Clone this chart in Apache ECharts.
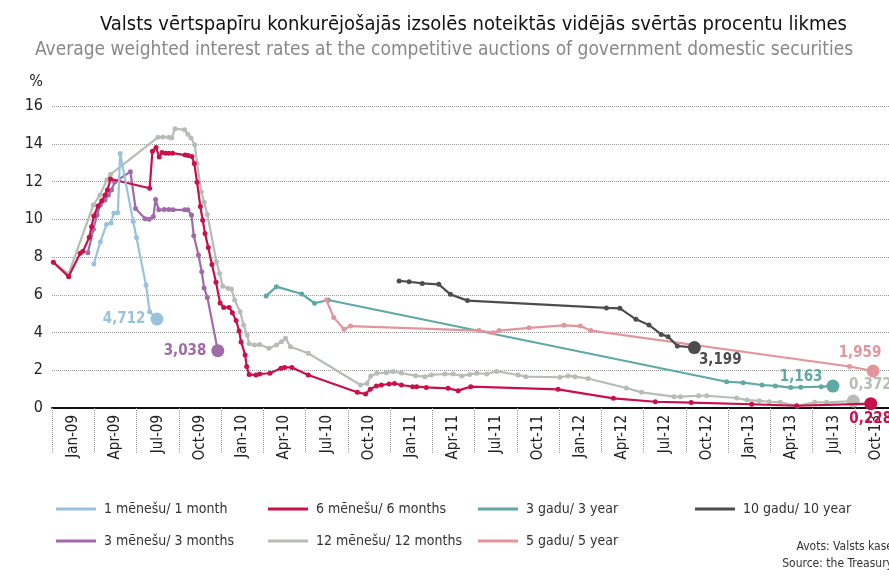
<!DOCTYPE html>
<html>
<head>
<meta charset="utf-8">
<script src="https://cdn.jsdelivr.net/npm/echarts@6/dist/echarts.min.js"></script>
<style>
html, body { margin: 0; padding: 0; background: #fff; }
#chart { width: 889px; height: 578px; }
</style>
</head>
<body>
<div id="chart"></div>
<script>
// ceturkšņu etiķetes uz x ass
const quarterLabels = [
  'Jan-09', 'Apr-09', 'Jul-09', 'Oct-09',
  'Jan-10', 'Apr-10', 'Jul-10', 'Oct-10',
  'Jan-11', 'Apr-11', 'Jul-11', 'Oct-11',
  'Jan-12', 'Apr-12', 'Jul-12', 'Oct-12',
  'Jan-13', 'Apr-13', 'Jul-13', 'Oct-13'
]

// 1 mēnesis
const dates1m = ['2009-03-31', '2009-04-14', '2009-04-27', '2009-05-07', '2009-05-13', '2009-05-22',
  '2009-05-27', '2009-06-24', '2009-07-01', '2009-07-22', '2009-07-30', '2009-08-15']
const rates1m = [7.63, 8.8, 9.72, 9.8, 10.33, 10.35, 13.49, 9.88, 9.02, 6.5, 5.1, 4.712]

// 3 mēneši
const dates3m = ['2009-03-18', '2009-03-30', '2009-04-07', '2009-04-14', '2009-04-24', '2009-05-01',
  '2009-05-08', '2009-05-15', '2009-06-18', '2009-06-29', '2009-07-20', '2009-07-29', '2009-08-07',
  '2009-08-12', '2009-08-19', '2009-08-31', '2009-09-10', '2009-09-19', '2009-10-14', '2009-10-21',
  '2009-10-29', '2009-11-03', '2009-11-13', '2009-11-20', '2009-11-25', '2009-12-02', '2009-12-25']
const rates3m = [8.23, 9.47, 10.23, 10.77, 11.02, 11.28, 11.55, 11.97, 12.52, 10.57, 10.03, 10.0, 10.14,
  11.04, 10.5, 10.52, 10.52, 10.5, 10.5, 10.5, 10.23, 9.12, 8.1, 7.22, 6.36, 5.86, 3.038]

// 6 mēneši
const dates6m = ['2009-01-04', '2009-02-06', '2009-03-01', '2009-03-07', '2009-03-21', '2009-03-26',
  '2009-03-31', '2009-04-09', '2009-04-17', '2009-04-24', '2009-04-29', '2009-05-06', '2009-07-30',
  '2009-08-05', '2009-08-13', '2009-08-20', '2009-08-26', '2009-09-03', '2009-09-10', '2009-09-18',
  '2009-10-15', '2009-10-22', '2009-10-30', '2009-11-04', '2009-11-10', '2009-11-17', '2009-11-22',
  '2009-11-27', '2009-12-04', '2009-12-12', '2009-12-21', '2009-12-30', '2010-01-07', '2010-01-19',
  '2010-01-26', '2010-02-03', '2010-02-09', '2010-02-13', '2010-02-21', '2010-02-24', '2010-03-01',
  '2010-03-16', '2010-03-24', '2010-04-15', '2010-05-09', '2010-05-17', '2010-06-02', '2010-07-07',
  '2010-10-22', '2010-11-09', '2010-11-19', '2010-12-02', '2010-12-13', '2010-12-30', '2011-01-11',
  '2011-01-26', '2011-02-18', '2011-02-26', '2011-03-19', '2011-05-05', '2011-05-27', '2011-06-23',
  '2011-12-30', '2012-04-27', '2012-07-27', '2012-10-13', '2013-02-20', '2013-05-28', '2013-11-05']
const rates6m = [7.72, 6.96, 8.2, 8.3, 9.04, 9.6, 10.17, 10.7, 10.98, 11.28, 11.55, 12.13, 11.64,
  13.6, 13.8, 13.3, 13.53, 13.5, 13.5, 13.5, 13.4, 13.38, 13.32, 12.96, 11.96, 10.67, 9.95,
  9.25, 8.5, 7.6, 6.66, 5.56, 5.33, 5.33, 5.05, 4.63, 4.08, 3.5, 2.81, 2.2, 1.77,
  1.75, 1.8, 1.84, 2.1, 2.15, 2.15, 1.75, 0.83, 0.74, 1.0, 1.17, 1.22, 1.27, 1.3,
  1.22, 1.13, 1.13, 1.09, 1.04, 0.92, 1.13, 0.99, 0.51, 0.33, 0.29, 0.2, 0.12, 0.228]

// 12 mēneši
const dates12m = ['2009-01-04', '2009-02-06', '2009-03-30', '2009-04-13', '2009-04-28', '2009-05-06',
  '2009-08-17', '2009-08-28', '2009-09-10', '2009-09-16', '2009-09-23', '2009-10-14', '2009-10-21',
  '2009-10-28', '2009-11-05', '2009-11-10', '2009-11-19', '2009-11-25', '2009-12-02', '2009-12-22',
  '2009-12-29', '2010-01-05', '2010-01-16', '2010-01-24', '2010-01-31', '2010-02-11', '2010-02-18',
  '2010-02-25', '2010-03-01', '2010-03-13', '2010-03-24', '2010-04-13', '2010-04-29', '2010-05-10',
  '2010-05-19', '2010-05-30', '2010-07-07', '2010-10-29', '2010-11-12', '2010-11-20', '2010-12-03',
  '2010-12-24', '2011-01-08', '2011-01-26', '2011-02-24', '2011-03-16', '2011-03-30', '2011-04-28',
  '2011-05-16', '2011-06-04', '2011-06-21', '2011-07-06', '2011-07-28', '2011-08-19', '2011-10-04',
  '2011-10-21', '2012-01-03', '2012-01-21', '2012-02-05', '2012-03-03', '2012-05-25', '2012-06-27',
  '2012-09-06', '2012-09-20', '2012-10-29', '2012-11-16', '2013-01-20', '2013-02-11', '2013-03-08',
  '2013-03-30', '2013-04-22', '2013-05-29', '2013-07-06', '2013-08-01', '2013-09-28']
const rates12m = [7.72, 7.1, 10.75, 11.28, 12.08, 12.38, 14.34, 14.36, 14.34, 14.3, 14.8, 14.74, 14.5,
  14.3, 13.95, 12.96, 11.46, 10.9, 10.25, 7.75, 7.13, 6.45, 6.35, 6.3, 5.72, 5.1, 4.4,
  3.87, 3.4, 3.34, 3.37, 3.16, 3.34, 3.51, 3.69, 3.25, 2.9, 1.22, 1.3, 1.7, 1.84,
  1.87, 1.93, 1.85, 1.71, 1.66, 1.75, 1.8, 1.8, 1.7, 1.78, 1.84, 1.8, 1.94, 1.75,
  1.66, 1.63, 1.7, 1.66, 1.56, 1.06, 0.83, 0.6, 0.6, 0.65, 0.65, 0.53, 0.42, 0.38,
  0.33, 0.3, 0.11, 0.3, 0.3, 0.372]

// 3 gadi
const dates3y = ['2010-04-07', '2010-04-29', '2010-06-23', '2010-07-21', '2010-08-20', '2012-12-29',
  '2013-02-03', '2013-03-14', '2013-04-12', '2013-05-15', '2013-06-06', '2013-07-20', '2013-08-15']
const rates3y = [5.93, 6.43, 6.04, 5.55, 5.72, 1.39, 1.34, 1.22, 1.17, 1.08, 1.1, 1.13, 1.163]

// 5 gadi
const dates5y = ['2010-08-16', '2010-09-01', '2010-09-23', '2010-10-07', '2011-07-11', '2011-08-11',
  '2011-08-24', '2011-10-28', '2012-01-12', '2012-02-16', '2012-03-09', '2013-09-20', '2013-11-10']
const rates5y = [5.72, 4.8, 4.17, 4.34, 4.1, 3.99, 4.1, 4.25, 4.38, 4.34, 4.1, 2.2, 1.959]

// 10 gadi
const dates10y = ['2011-01-21', '2011-02-11', '2011-03-10', '2011-04-15', '2011-05-10', '2011-06-16',
  '2012-04-12', '2012-05-11', '2012-06-15', '2012-07-13', '2012-08-09', '2012-08-24', '2012-09-13', '2012-10-20']
const rates10y = [6.73, 6.69, 6.6, 6.55, 6.02, 5.69, 5.3, 5.28, 4.7, 4.4, 3.9, 3.78, 3.29, 3.199]

const FONT = '"Liberation Sans Narrow", "DejaVu Sans Condensed", "Liberation Sans", sans-serif'

// datums -> mēneši kopš 2009. gada janvāra
function monthPos(d) {
  const [y, m, dd] = d.split('-').map(Number)
  const dim = new Date(y, m, 0).getDate()
  return (y - 2009) * 12 + (m - 1) + (dd - 1) / dim
}

function makeSeries(name, color, dates, rates, endLabel, z) {
  const data = dates.map((d, i) => [monthPos(d), rates[i]])
  const last = data.length - 1
  data[last] = {
    value: data[last],
    symbolSize: 13,
    label: Object.assign({
      show: true,
      formatter: p => p.value[1].toFixed(3).replace('.', ','),
      color: color,
      fontFamily: FONT,
      fontWeight: 'bold',
      fontSize: 15
    }, endLabel)
  }
  return {
    name: name,
    type: 'line',
    data: data,
    z: z,
    symbol: 'circle',
    symbolSize: 5,
    color: color,
    itemStyle: { color: color },
    lineStyle: { color: color, width: 2.2 },
    emphasis: { disabled: true }
  }
}

const myChart = echarts.init(document.getElementById('chart'))

const legendBase = {
  icon: 'rect',
  itemWidth: 40,
  itemHeight: 3,
  selectedMode: false,
  textStyle: { fontFamily: FONT, fontSize: 14, color: '#333', padding: [0, 0, 0, 3] }
}
const legendItems = [
  ['1 mēnešu/ 1 month', 51, 497],
  ['6 mēnešu/ 6 months', 263, 497],
  ['3 gadu/ 3 year', 473, 497],
  ['10 gadu/ 10 year', 690, 497],
  ['3 mēnešu/ 3 months', 51, 529],
  ['12 mēnešu/ 12 months', 263, 529],
  ['5 gadu/ 5 year', 473, 529]
]

myChart.setOption({
  animation: false,
  title: [
    {
      text: 'Valsts vērtspapīru konkurējošajās izsolēs noteiktās vidējās svērtās procentu likmes',
      left: 95,
      top: 10,
      textStyle: { fontFamily: FONT, fontSize: 20, fontWeight: 'normal', color: '#111' }
    },
    {
      text: 'Average weighted interest rates at the competitive auctions of government domestic securities',
      left: 30,
      top: 36,
      textStyle: { fontFamily: FONT, fontSize: 19, fontWeight: 'normal', color: '#888' }
    }
  ],
  legend: legendItems.map(it => Object.assign({}, legendBase, { data: [it[0]], left: it[1], top: it[2] })),
  grid: {
    left: 52,
    right: -8,
    top: 106,
    bottom: 170,
    outerBoundsMode: 'none'
  },
  xAxis: [
    {
      type: 'value',
      min: 0,
      max: 60,
      interval: 1.5,
      axisLine: { show: false },
      axisTick: { show: false },
      splitLine: { show: false },
      axisLabel: {
        rotate: 90,
        margin: 7,
        fontFamily: FONT,
        fontSize: 15,
        color: '#222',
        formatter: v => {
          const q = (v - 1.5) / 3
          const k = Math.round(q)
          return Math.abs(q - k) < 1e-6 && k >= 0 && k < quarterLabels.length ? quarterLabels[k] : ''
        }
      }
    },
    {
      type: 'value',
      min: 0,
      max: 60,
      interval: 3,
      position: 'bottom',
      axisLine: { show: true, lineStyle: { color: '#111', width: 2 } },
      axisTick: { show: true, length: 45, lineStyle: { color: '#999', type: 'dotted', width: 1 } },
      axisLabel: { show: false },
      splitLine: { show: false }
    }
  ],
  yAxis: {
    type: 'value',
    min: 0,
    max: 16,
    interval: 2,
    name: '%',
    nameLocation: 'end',
    nameGap: 16,
    nameTextStyle: { fontFamily: FONT, fontSize: 16, color: '#222', align: 'right', padding: [0, 9, 0, 0] },
    axisLine: { show: false },
    axisTick: { show: false },
    axisLabel: { fontFamily: FONT, fontSize: 16, color: '#222', margin: 9 },
    splitLine: { lineStyle: { color: '#999', type: 'dotted', width: 1 } }
  },
  series: [
    makeSeries('12 mēnešu/ 12 months', '#b5bdb5', dates12m, rates12m, { position: 'top', distance: 4, offset: [17, 2] }, 2),
    makeSeries('3 gadu/ 3 year', '#5ea9a6', dates3y, rates3y, { position: 'left', distance: 4, offset: [0, -9] }, 3),
    makeSeries('5 gadu/ 5 year', '#e3959c', dates5y, rates5y, { position: 'top', distance: 4, offset: [-13, 0] }, 3),
    makeSeries('10 gadu/ 10 year', '#4d4d4d', dates10y, rates10y, { position: 'right', distance: 4, offset: [-6, 12] }, 3),
    makeSeries('3 mēnešu/ 3 months', '#a06aa8', dates3m, rates3m, { position: 'left', distance: 5 }, 4),
    makeSeries('6 mēnešu/ 6 months', '#c8104a', dates6m, rates6m, { position: 'bottom', distance: 3, offset: [0, -2] }, 5),
    makeSeries('1 mēnešu/ 1 month', '#99c2dc', dates1m, rates1m, { position: 'left', distance: 5 }, 6)
  ],
  graphic: [
    {
      type: 'text',
      right: -4,
      top: 541,
      style: { text: 'Avots: Valsts kase', font: '12px ' + FONT, fill: '#333', textAlign: 'right' }
    },
    {
      type: 'text',
      right: -4,
      top: 558,
      style: { text: 'Source: the Treasury', font: '12px ' + FONT, fill: '#333', textAlign: 'right' }
    }
  ]
})

window.addEventListener('resize', () => {
  myChart.resize()
})
</script>
</body>
</html>
